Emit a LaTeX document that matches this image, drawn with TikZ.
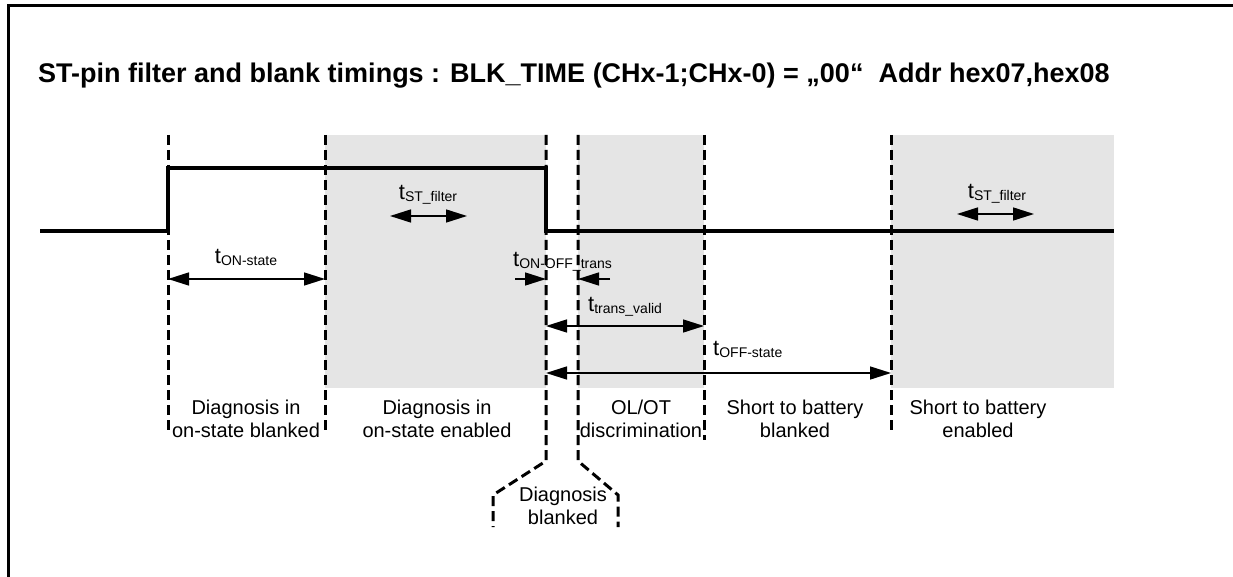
\documentclass[tikz,border=0pt]{standalone}
\usepackage{fontspec}
\setmainfont{Liberation Sans}
\usetikzlibrary{arrows.meta}

\newcommand{\tsub}[1]{{\fontsize{22}{22}\selectfont t}\raisebox{-2pt}{\fontsize{14}{14}\selectfont #1}}

\begin{document}
\begin{tikzpicture}[x=1pt,y=-1pt,
        signal/.style={line width=4pt},
        marker/.style={line width=3pt, dash pattern=on 10pt off 5pt},
        span/.style={line width=1.5pt, {Triangle[length=21pt,width=13pt]}-{Triangle[length=21pt,width=13pt]}},
        halfspan/.style={line width=1.5pt, -{Triangle[length=21pt,width=13pt]}},
        phase/.style={align=center, font=\fontsize{20}{22.5}\selectfont, anchor=north, inner sep=0pt},
        tlabel/.style={anchor=base, inner sep=0pt}]
        \useasboundingbox (0,0) rectangle (1233,577);

        % frame and title
        \draw[line width=3pt] (8,577) -- (8,6) -- (1233,6);
        \node[anchor=base west, inner sep=0pt, font=\bfseries\fontsize{27}{27}\selectfont] (title) at (38,83)
            {ST-pin filter and blank timings : BLK\_TIME (CHx-1;CHx-0) = „00“ \ Addr hex07,hex08};

        % shaded (enabled) windows
        \fill[black!10] (325,135) rectangle (546,388);
        \fill[black!10] (578,135) rectangle (704,388);
        \fill[black!10] (891,135) rectangle (1114,388);

        % time marks
        \foreach \x/\e in {168/430, 325/430, 704/440, 891/430}
            \draw[marker] (\x,135) -- (\x,\e);
        \draw[marker] (546,135) -- (546,461) -- (493,495) -- (493,527);
        \draw[marker] (578,135) -- (578,461) -- (618,495) -- (618,527);

        % output signal
        \draw[signal] (40,231) -- (168,231) -- (168,168) -- (546,168) -- (546,231) -- (1114,231);

        % timing arrows
        \coordinate (on1) at (168,279);
        \coordinate (on2) at (325,279);
        \coordinate (fa1) at (390,216);
        \coordinate (fa2) at (467,216);
        \coordinate (fb1) at (957,214);
        \coordinate (fb2) at (1034,214);
        \coordinate (tr0) at (515,279);
        \coordinate (tr1) at (546,279);
        \coordinate (tr2) at (578,279);
        \coordinate (tr3) at (610,279);
        \coordinate (va1) at (546,326);
        \coordinate (va2) at (704,326);
        \coordinate (of1) at (546,373);
        \coordinate (of2) at (891,373);

        \draw[span] (on1) -- (on2);
        \draw[span] (fa1) -- (fa2);
        \draw[span] (fb1) -- (fb2);
        \draw[halfspan] (tr0) -- (tr1);
        \draw[halfspan] (tr3) -- (tr2);
        \draw[span] (va1) -- (va2);
        \draw[span] (of1) -- (of2);

        \node[tlabel] (ton) at (246,263) {\tsub{ON-state}};
        \node[tlabel] (tfa) at (428,200) {\tsub{ST\_filter}};
        \node[tlabel] (tfb) at (997,199) {\tsub{ST\_filter}};
        \node[tlabel, anchor=base west] (ttr) at (513,266) {\tsub{ON-OFF\_trans}};
        \node[tlabel, anchor=base west] (tva) at (588,311) {\tsub{trans\_valid}};
        \node[tlabel, anchor=base west] (tof) at (713,355) {\tsub{OFF-state}};

        % phase names
        \node[phase] (ph1) at (246,400) {Diagnosis in\\on-state blanked};
        \node[phase] (ph2) at (437,400) {Diagnosis in\\on-state enabled};
        \node[phase] (ph3) at (641,400) {OL/OT\\discrimination};
        \node[phase] (ph4) at (795,400) {Short to battery\\blanked};
        \node[phase] (ph5) at (978,400) {Short to battery\\enabled};
        \node[phase] (ph6) at (563,487) {Diagnosis\\blanked};
\end{tikzpicture}
\end{document}
